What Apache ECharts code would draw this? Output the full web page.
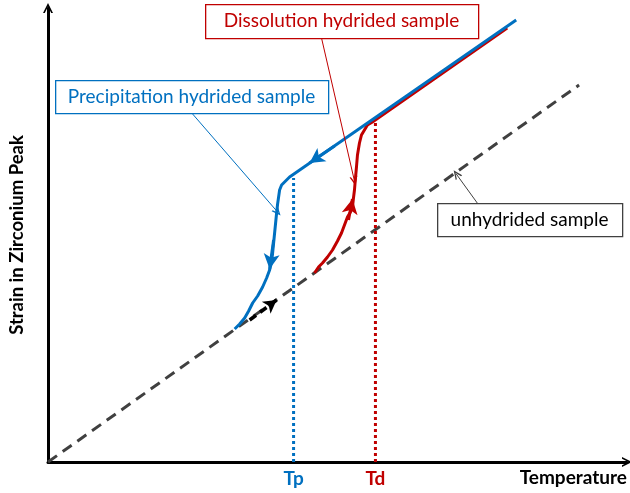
<!DOCTYPE html>
<html>
<head>
<meta charset="utf-8">
<script src="https://cdn.jsdelivr.net/npm/echarts@6/dist/echarts.min.js"></script>
<style>
  html, body { margin: 0; padding: 0; background: #ffffff; }
  #chart { width: 630px; height: 493px; }
</style>
</head>
<body>
<div id="chart"></div>
<script>
// Schematic: strain in the zirconium peak vs temperature (arbitrary units)
const unhydrided = [[0, 0], [532, 377]];
const precipitation = [
  [187, 133], [192, 138], [197, 144], [201, 151], [205, 159], [210, 166],
  [215, 175], [219, 184], [222, 192], [224, 200], [225, 209], [226, 219],
  [227, 229], [228, 239], [229, 249], [230, 258], [231, 265], [232, 272],
  [234, 277], [238, 281], [242, 285], [469, 442]
];
const dissolution = [
  [267, 189], [271, 195], [275, 199], [280, 205], [285, 212], [290, 221],
  [294, 229], [297, 237], [300, 245], [303, 250], [305, 255], [306, 264],
  [307, 272], [308, 284], [309, 295], [310, 307], [312, 319], [314, 327],
  [317, 332], [320, 337], [322, 339], [325, 340], [460, 434]
];
const Tp = 246;
const Td = 328;
const tpLine = [[Tp, 0], [Tp, 284]];
const tdLine = [[Td, 0], [Td, 340]];
// direction arrows drawn along the curves: [from, to]
const coolArrows = [[[287, 316], [262, 299]], [[226, 222], [222, 193]]];
const heatArrows = [[[301, 242], [305, 263]]];
const startArrow = [[202, 142], [229, 162]];
// annotation leaders: [box anchor, pointed location]
const dissolutionLeader = [[274, 424], [307, 281]];
const precipitationLeader = [[144, 349], [230, 250]];
const unhydridedLeader = [[430, 259], [409, 288]];

const BLUE = '#0070C0';
const RED = '#C00000';
const GREY = '#404040';
const FONT = 'Lato';

const chevron = 'path://M0,10 L5,0 L10,10 L8.2,10 L5,3.6 L1.8,10 Z';

function arrowItems(list, color, width) {
  return list.map(function (a) {
    return [
      { coord: a[0], symbol: 'none' },
      { coord: a[1], symbol: 'arrow', symbolSize: [12, 15],
        lineStyle: { color: color, width: width, type: 'solid' } }
    ];
  });
}
function leaderItem(pair, color) {
  return [
    { coord: pair[0], symbol: 'none' },
    { coord: pair[1], symbol: chevron, symbolSize: [8, 9],
      lineStyle: { color: color, width: 1, type: 'solid' } }
  ];
}

const chart = echarts.init(document.getElementById('chart'), null, { renderer: 'canvas' });

chart.setOption({
  animation: false,
  backgroundColor: '#ffffff',
  grid: { left: 48, right: 2, top: 8, bottom: 31 },
  xAxis: {
    type: 'value', min: 0, max: 580,
    splitLine: { show: false },
    axisTick: { show: false },
    axisLine: { lineStyle: { color: '#000', width: 3 },
      symbol: ['none', chevron], symbolSize: [13, 10] },
    axisLabel: {
      show: true, customValues: [Tp, Td], margin: 7,
      formatter: function (v) { return v === Tp ? '{p|Tp}' : '{d|Td}'; },
      rich: {
        p: { color: BLUE, fontFamily: FONT, fontWeight: 'bold', fontSize: 19 },
        d: { color: RED, fontFamily: FONT, fontWeight: 'bold', fontSize: 19 }
      }
    },
    name: 'Temperature', nameLocation: 'end', nameGap: 0,
    nameTextStyle: { color: '#000', fontFamily: FONT, fontWeight: 'bold', fontSize: 19,
      align: 'right', verticalAlign: 'top', padding: [6, 0, 0, 0] }
  },
  yAxis: {
    type: 'value', min: 0, max: 454,
    splitLine: { show: false },
    axisTick: { show: false },
    axisLabel: { show: false },
    axisLine: { lineStyle: { color: '#000', width: 3 },
      symbol: ['none', chevron], symbolSize: [13, 10] },
    name: 'Strain in Zirconium Peak', nameLocation: 'middle', nameGap: 21,
    nameRotate: 90,
    nameTextStyle: { color: '#000', fontFamily: FONT, fontWeight: 'bold', fontSize: 18.5 }
  },
  series: [
    {
      name: 'unhydrided sample', type: 'line', data: unhydrided, showSymbol: false,
      silent: true,
      lineStyle: { color: GREY, width: 3, type: [11, 7] },
      markLine: {
        silent: true, animation: false, label: { show: false },
        data: [
          [{ coord: startArrow[0], symbol: 'none' },
           { coord: startArrow[1], symbol: 'arrow', symbolSize: [11, 13],
             lineStyle: { color: '#000', width: 3.5, type: [8, 5] } }],
          leaderItem(unhydridedLeader, '#404040')
        ]
      }
    },
    {
      name: 'Tp', type: 'line', data: tpLine, showSymbol: false, silent: true,
      lineStyle: { color: BLUE, width: 3, type: [3, 3] }
    },
    {
      name: 'Td', type: 'line', data: tdLine, showSymbol: false, silent: true,
      lineStyle: { color: RED, width: 3, type: [3, 3] }
    },
    {
      name: 'Dissolution hydrided sample', type: 'line', data: dissolution,
      showSymbol: false, silent: true,
      lineStyle: { color: RED, width: 3 },
      markLine: {
        silent: true, animation: false, label: { show: false },
        data: arrowItems(heatArrows, RED, 3).concat([leaderItem(dissolutionLeader, RED)])
      }
    },
    {
      name: 'Precipitation hydrided sample', type: 'line', data: precipitation,
      showSymbol: false, silent: true,
      lineStyle: { color: BLUE, width: 3 },
      markLine: {
        silent: true, animation: false, label: { show: false },
        data: arrowItems(coolArrows, BLUE, 3).concat([leaderItem(precipitationLeader, BLUE)])
      }
    }
  ]
});

// Annotation boxes
function box(x, y, w, h, text, color, textColor) {
  return [
    { type: 'rect', left: x, top: y, shape: { width: w, height: h }, z: 100,
      style: { fill: '#ffffff', stroke: color, lineWidth: 1.3 } },
    { type: 'text', x: x + w / 2, y: y + h / 2, z: 101,
      style: { text: text, fill: textColor, font: '19px ' + FONT,
        textAlign: 'center', textVerticalAlign: 'middle' } }
  ];
}
chart.setOption({
  graphic: [].concat(
    box(205, 4, 273, 34, 'Dissolution hydrided sample', RED, RED),
    box(55, 80, 273, 33, 'Precipitation hydrided sample', BLUE, BLUE),
    box(437, 203, 185, 33, 'unhydrided sample', '#404040', '#000000')
  )
});
</script>
</body>
</html>
